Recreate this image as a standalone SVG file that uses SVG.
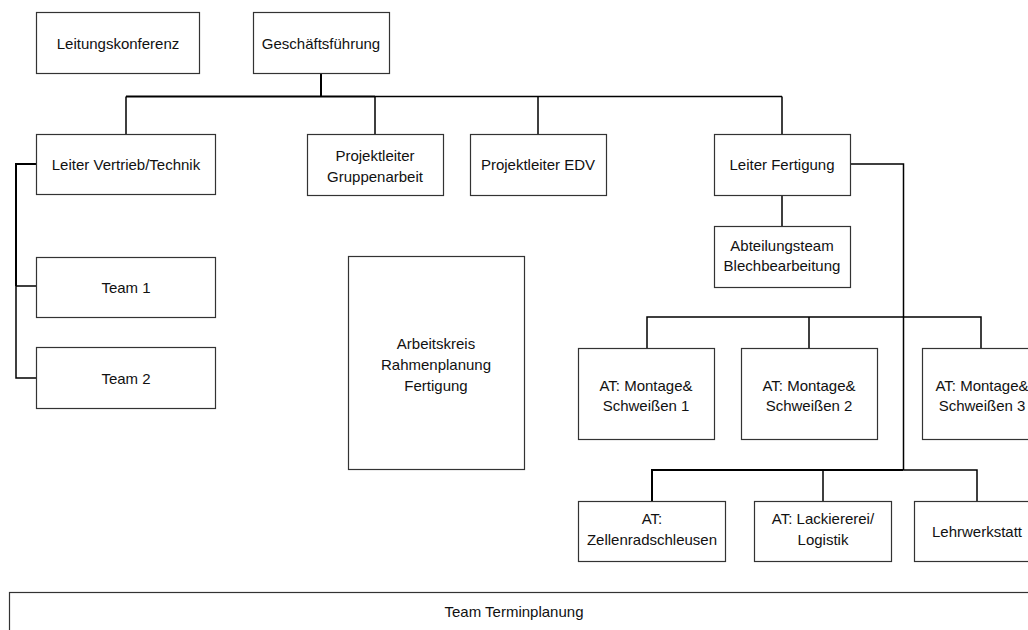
<svg xmlns="http://www.w3.org/2000/svg" width="1028" height="630" viewBox="0 0 1028 630">
<style>
.box{fill:#fff;stroke:#333;stroke-width:1.2}
.t{font-family:"Liberation Sans",Arial,sans-serif;font-size:15px;fill:#111;text-anchor:middle}
.c{fill:none;stroke:#000;stroke-width:1.5}
.ck{fill:none;stroke:#000;stroke-width:2}
</style>
<rect width="1028" height="630" fill="#fff"/>
<g id="connectors">
<path class="ck" d="M321,73 V96.5 M126,96.5 H375"/>
<path class="c" d="M375,96.5 H782 M126,96.5 V134 M375,96.5 V134 M538,96.5 V134 M782,96.5 V134"/>
<path class="c" d="M782,195 V226 M850,164 H903.5 V470"/>
<path class="ck" d="M36,164 H16 V286"/>
<path class="c" d="M16,286 V378 H36 M16,286 H36"/>
<path class="c" d="M647,348 V317 H981 V348 M809,317 V348"/>
<path class="ck" d="M652,501 V470 H903.5"/>
<path class="c" d="M903.5,470 H977 V501 M823,470 V501"/>
</g>
<g id="n-leitungskonferenz"><rect class="box" x="36.5" y="12.5" width="163" height="61"/><text class="t" x="118" y="49">Leitungskonferenz</text></g>
<g id="n-geschaeftsfuehrung"><rect class="box" x="253.5" y="12.5" width="136" height="61"/><text class="t" x="321" y="49">Geschäftsführung</text></g>
<g id="n-leiter-vertrieb"><rect class="box" x="36.5" y="134.5" width="179" height="60"/><text class="t" x="126" y="170">Leiter Vertrieb/Technik</text></g>
<g id="n-pl-gruppenarbeit"><rect class="box" x="307.5" y="134.5" width="136" height="61"/><text class="t" x="375" y="161">Projektleiter</text><text class="t" x="375" y="182">Gruppenarbeit</text></g>
<g id="n-pl-edv"><rect class="box" x="470.5" y="134.5" width="136" height="61"/><text class="t" x="538" y="170">Projektleiter EDV</text></g>
<g id="n-leiter-fertigung"><rect class="box" x="714.5" y="134.5" width="136" height="61"/><text class="t" x="782" y="170">Leiter Fertigung</text></g>
<g id="n-abteilungsteam"><rect class="box" x="714.5" y="226.5" width="136" height="61"/><text class="t" x="782" y="251">Abteilungsteam</text><text class="t" x="782" y="271">Blechbearbeitung</text></g>
<g id="n-team1"><rect class="box" x="36.5" y="257.5" width="179" height="60"/><text class="t" x="126" y="293">Team 1</text></g>
<g id="n-team2"><rect class="box" x="36.5" y="347.5" width="179" height="61"/><text class="t" x="126" y="384">Team 2</text></g>
<g id="n-arbeitskreis"><rect class="box" x="348.5" y="256.5" width="176" height="213"/><text class="t" x="436" y="349">Arbeitskreis</text><text class="t" x="436" y="370">Rahmenplanung</text><text class="t" x="436" y="391">Fertigung</text></g>
<g id="n-at1"><rect class="box" x="578.5" y="348.5" width="136" height="91"/><text class="t" x="646" y="391">AT: Montage&amp;</text><text class="t" x="646" y="411">Schweißen 1</text></g>
<g id="n-at2"><rect class="box" x="741.5" y="348.5" width="136" height="91"/><text class="t" x="809" y="391">AT: Montage&amp;</text><text class="t" x="809" y="411">Schweißen 2</text></g>
<g id="n-at3"><rect class="box" x="922.5" y="348.5" width="136" height="91"/><text class="t" x="982" y="391">AT: Montage&amp;</text><text class="t" x="982" y="411">Schweißen 3</text></g>
<g id="n-zellenrad"><rect class="box" x="578.5" y="501.5" width="147" height="60"/><text class="t" x="652" y="524">AT:</text><text class="t" x="652" y="545">Zellenradschleusen</text></g>
<g id="n-lackiererei"><rect class="box" x="754.5" y="501.5" width="137" height="60"/><text class="t" x="823" y="524">AT: Lackiererei/</text><text class="t" x="823" y="545">Logistik</text></g>
<g id="n-lehrwerkstatt"><rect class="box" x="914.5" y="501.5" width="126" height="60"/><text class="t" x="977" y="537">Lehrwerkstatt</text></g>
<g id="n-team-terminplanung"><rect class="box" x="9.5" y="592.5" width="1030" height="60"/><text class="t" x="514" y="617">Team Terminplanung</text></g>
</svg>
